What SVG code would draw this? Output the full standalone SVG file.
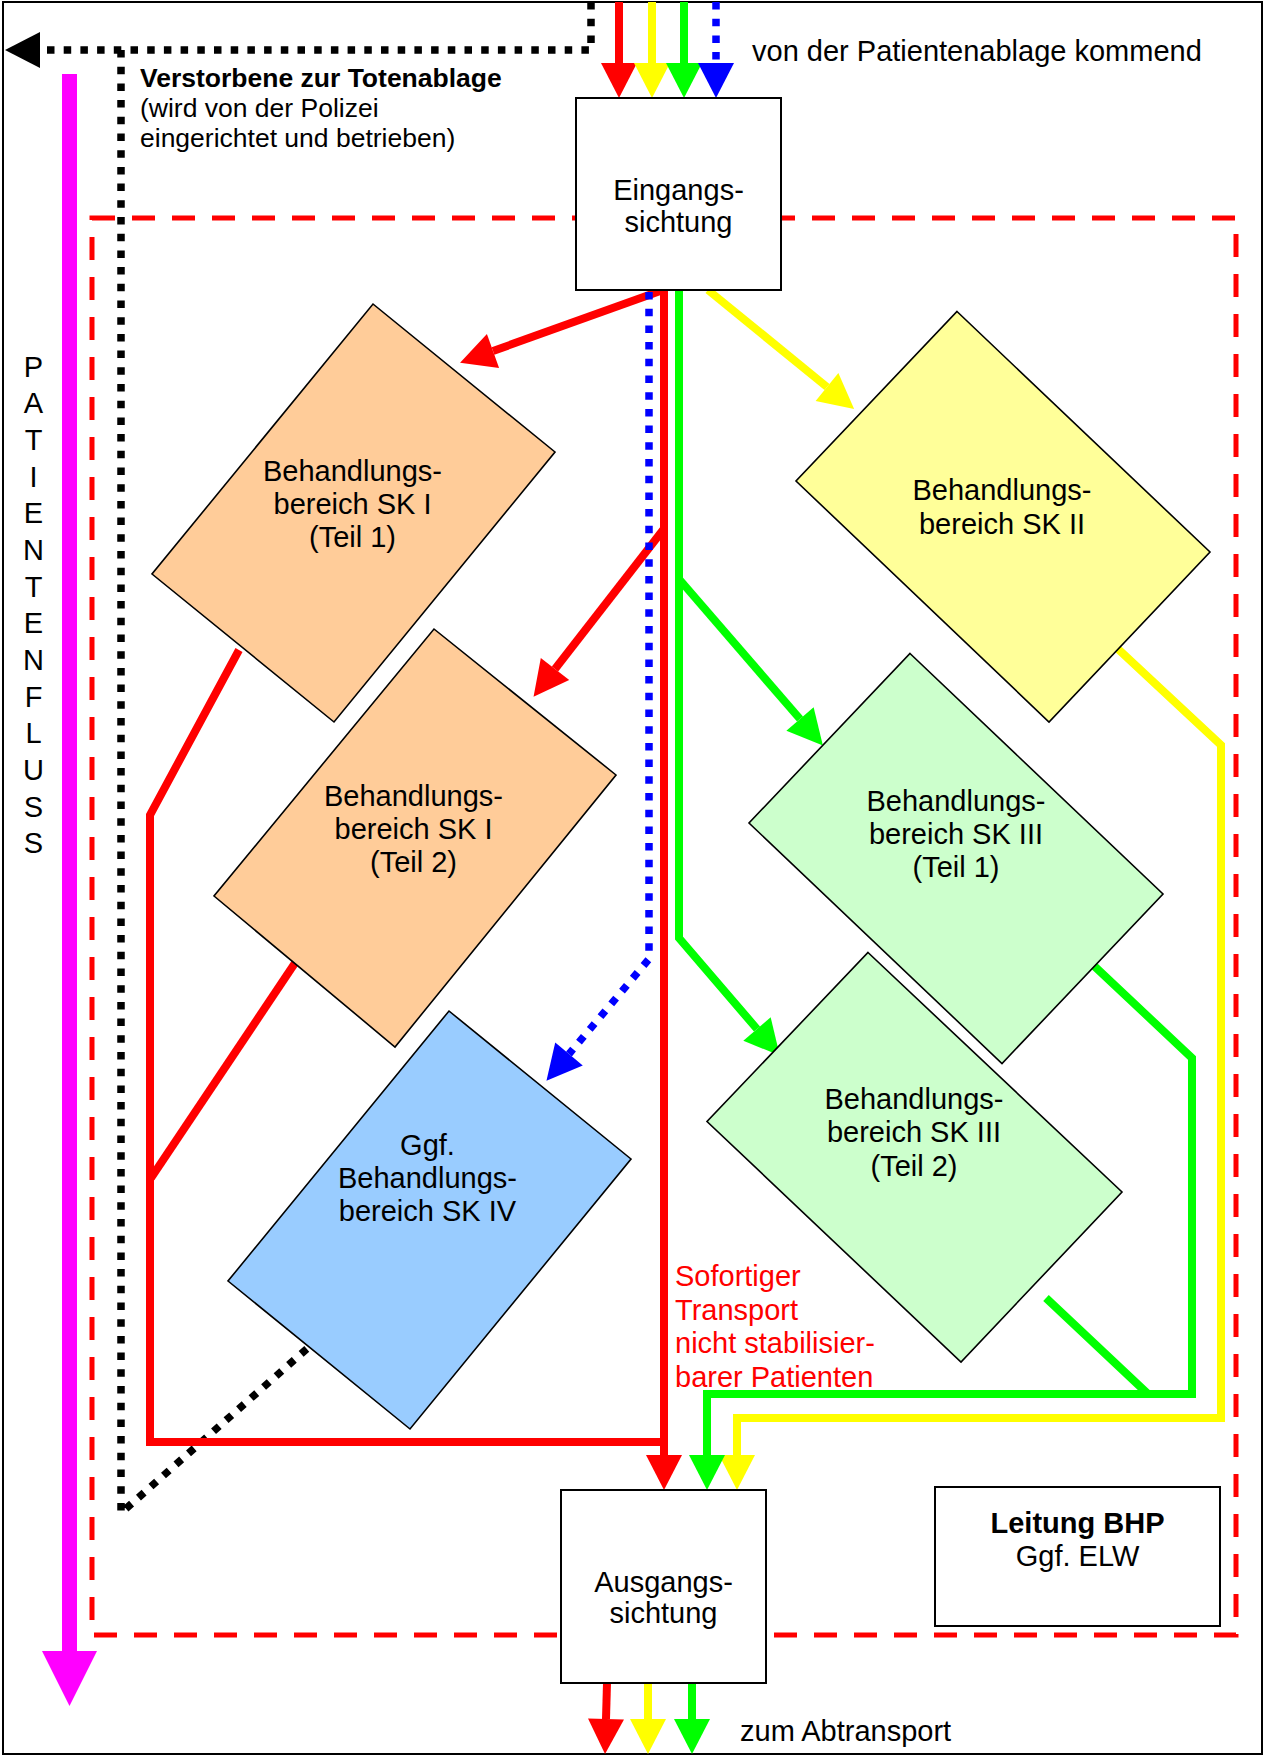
<svg xmlns="http://www.w3.org/2000/svg" width="1265" height="1756" viewBox="0 0 1265 1756">
<style>
text{font-family:"Liberation Sans",Arial,sans-serif;font-size:29px;fill:#000}
.c{text-anchor:middle}
.b{font-weight:bold}
.sm{font-size:26.5px}
.red{fill:#f00}
.node{stroke:#000;stroke-width:1.6}
.box{fill:#fff;stroke:#000;stroke-width:2}
.ln{fill:none;stroke-width:8;stroke-linejoin:miter}
.r{stroke:#f00}.y{stroke:#ff0}.g{stroke:#0f0}
.bl{stroke:#00f;stroke-width:7.5;stroke-dasharray:7.5 9.2}
.dk{stroke:#000;stroke-width:7.5;stroke-dasharray:7.5 9.2}
</style>
<defs>
<marker id="mr" markerUnits="userSpaceOnUse" markerWidth="36" markerHeight="36" refX="0" refY="18" orient="auto" overflow="visible"><path d="M0,0 L35,18 L0,36 z" fill="#f00"/></marker>
<marker id="my" markerUnits="userSpaceOnUse" markerWidth="36" markerHeight="36" refX="0" refY="18" orient="auto" overflow="visible"><path d="M0,0 L35,18 L0,36 z" fill="#ff0"/></marker>
<marker id="mg" markerUnits="userSpaceOnUse" markerWidth="36" markerHeight="36" refX="0" refY="18" orient="auto" overflow="visible"><path d="M0,0 L35,18 L0,36 z" fill="#0f0"/></marker>
<marker id="mb" markerUnits="userSpaceOnUse" markerWidth="36" markerHeight="36" refX="0" refY="18" orient="auto" overflow="visible"><path d="M0,0 L35,18 L0,36 z" fill="#00f"/></marker>
<marker id="mk" markerUnits="userSpaceOnUse" markerWidth="36" markerHeight="36" refX="0" refY="18" orient="auto" overflow="visible"><path d="M0,0 L35,18 L0,36 z" fill="#000"/></marker>
</defs>
<rect x="0" y="0" width="1265" height="1756" fill="#fff"/>
<rect x="3" y="2" width="1259" height="1752" fill="none" stroke="#000" stroke-width="2"/>
<rect id="bhp-area" x="92" y="218" width="1144" height="1417" fill="none" stroke="#f00" stroke-width="5" stroke-dasharray="23 17"/>
<g id="patientenfluss">
<line x1="69.5" y1="74" x2="69.5" y2="1652" stroke="#f0f" stroke-width="15"/>
<polygon points="42,1651 97,1651 69.5,1706" fill="#f0f"/>
<text class="c" x="33.5" y="376.7">P</text>
<text class="c" x="33.5" y="413.4">A</text>
<text class="c" x="33.5" y="450">T</text>
<text class="c" x="33.5" y="486.7">I</text>
<text class="c" x="33.5" y="523.4">E</text>
<text class="c" x="33.5" y="560">N</text>
<text class="c" x="33.5" y="596.7">T</text>
<text class="c" x="33.5" y="633.4">E</text>
<text class="c" x="33.5" y="670">N</text>
<text class="c" x="33.5" y="706.7">F</text>
<text class="c" x="33.5" y="743.4">L</text>
<text class="c" x="33.5" y="780">U</text>
<text class="c" x="33.5" y="816.7">S</text>
<text class="c" x="33.5" y="853.4">S</text>
</g>
<g id="connectors">
<path class="ln dk" d="M591,2 V50 H40" marker-end="url(#mk)"/>
<path class="ln dk" d="M121,50 V1513 L310,1346"/>
<path class="ln r" d="M619,2 V63" marker-end="url(#mr)"/>
<path class="ln y" d="M652,2 V63" marker-end="url(#my)"/>
<path class="ln g" d="M684,2 V63" marker-end="url(#mg)"/>
<path class="ln bl" d="M716,2 V63" marker-end="url(#mb)"/>
<path class="ln r" d="M663,290 L493,351" marker-end="url(#mr)"/>
<path class="ln r" d="M663,530 L555,669" marker-end="url(#mr)"/>
<path class="ln r" d="M664,290 V1455" marker-end="url(#mr)"/>
<path class="ln r" d="M239,650 L150,815 V1442 H664"/>
<path class="ln r" d="M295,963 L151,1178"/>
<path class="ln bl" d="M649,292 V959 L569,1054" marker-end="url(#mb)"/>
<path class="ln g" d="M679,290 V938 L757,1029" marker-end="url(#mg)"/>
<path class="ln g" d="M679,579 L800,719" marker-end="url(#mg)"/>
<path class="ln y" d="M708,290 L827,387" marker-end="url(#my)"/>
<path class="ln y" d="M1118,649 L1221,745 V1418 H737 V1455" marker-end="url(#my)"/>
<path class="ln g" d="M1091,963 L1192,1058 V1394 H707 V1455" marker-end="url(#mg)"/>
<path class="ln g" d="M1046,1298 L1148,1394"/>
<path class="ln r" d="M607,1683 L606,1719" marker-end="url(#mr)"/>
<path class="ln y" d="M648,1683 V1719" marker-end="url(#my)"/>
<path class="ln g" d="M692,1683 V1719" marker-end="url(#mg)"/>
</g>
<g id="n-eingang"><rect class="box" x="576" y="98" width="205" height="192"/><text class="c" x="678.5" y="200">Eingangs-</text><text class="c" x="678.5" y="232">sichtung</text></g>
<g id="n-sk1-1"><polygon class="node" fill="#fc9" points="373,304 555,452 334,722 152,574"/><text class="c" x="352.5" y="481">Behandlungs-</text><text class="c" x="352.5" y="514">bereich SK I</text><text class="c" x="352.5" y="547">(Teil 1)</text></g>
<g id="n-sk1-2"><polygon class="node" fill="#fc9" points="434,629 616,775 395,1047 214,896"/><text class="c" x="413.5" y="806">Behandlungs-</text><text class="c" x="413.5" y="839">bereich SK I</text><text class="c" x="413.5" y="872">(Teil 2)</text></g>
<g id="n-sk4"><polygon class="node" fill="#9cf" points="449,1011 631,1159 410,1429 228,1281"/><text class="c" x="427.5" y="1155">Ggf.</text><text class="c" x="427.5" y="1188">Behandlungs-</text><text class="c" x="427.5" y="1221">bereich SK IV</text></g>
<g id="n-sk2"><polygon class="node" fill="#ff9" points="957,311.5 1210,552 1049,722 796,481"/><text class="c" x="1002" y="500">Behandlungs-</text><text class="c" x="1002" y="534">bereich SK II</text></g>
<g id="n-sk3-1"><polygon class="node" fill="#cfc" points="910,653.5 1163,894 1002,1063.5 749,823"/><text class="c" x="956" y="811">Behandlungs-</text><text class="c" x="956" y="844">bereich SK III</text><text class="c" x="956" y="877">(Teil 1)</text></g>
<g id="n-sk3-2"><polygon class="node" fill="#cfc" points="868,952.5 1122,1192 961,1362 707,1121.5"/><text class="c" x="914" y="1109">Behandlungs-</text><text class="c" x="914" y="1142">bereich SK III</text><text class="c" x="914" y="1176">(Teil 2)</text></g>
<g id="n-ausgang"><rect class="box" x="561" y="1490" width="205" height="193"/><text class="c" x="663.5" y="1592">Ausgangs-</text><text class="c" x="663.5" y="1623">sichtung</text></g>
<g id="n-leitung"><rect class="box" x="935" y="1487" width="285" height="139"/><text class="c b" x="1077.5" y="1533">Leitung BHP</text><text class="c" x="1077.5" y="1566">Ggf. ELW</text></g>
<g id="labels">
<text class="sm b" x="140" y="87">Verstorbene zur Totenablage</text>
<text class="sm" x="140" y="117">(wird von der Polizei</text>
<text class="sm" x="140" y="147">eingerichtet und betrieben)</text>
<text x="752" y="61">von der Patientenablage kommend</text>
<text x="740" y="1741">zum Abtransport</text>
<text class="red" x="675" y="1286">Sofortiger</text>
<text class="red" x="675" y="1319.5">Transport</text>
<text class="red" x="675" y="1353">nicht stabilisier-</text>
<text class="red" x="675" y="1386.5">barer Patienten</text>
</g>
</svg>
